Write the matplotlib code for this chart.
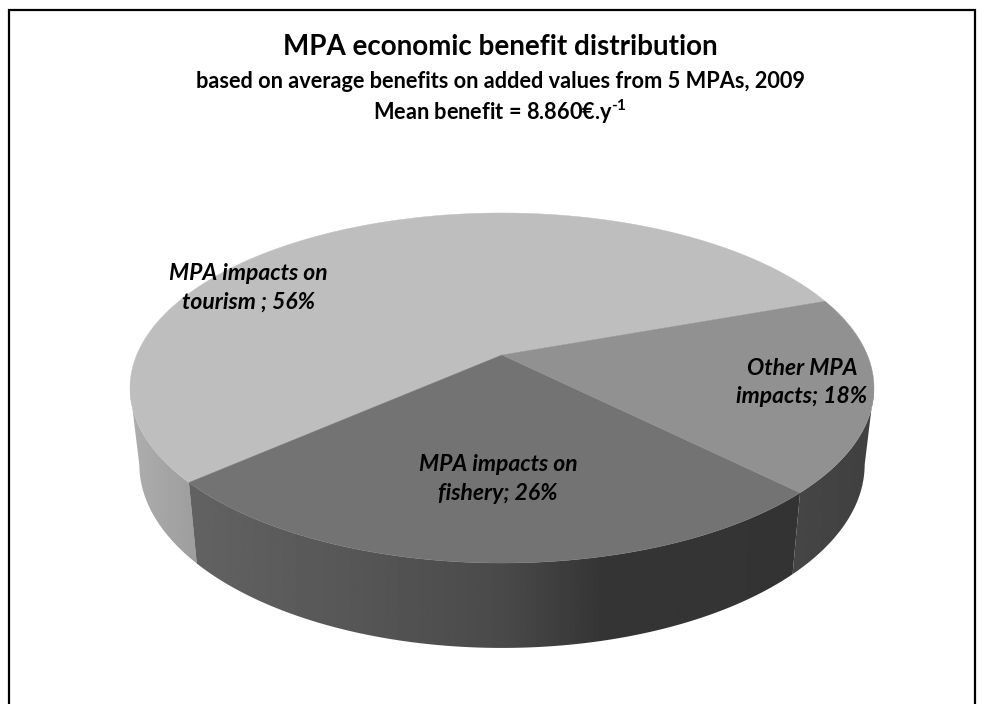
import numpy as np
import matplotlib
matplotlib.use("Agg")
import matplotlib.pyplot as plt
from matplotlib.patches import Polygon

plt.rcParams['font.family'] = ['Lato', 'DejaVu Sans']
plt.rcParams['mathtext.fontset'] = 'custom'
plt.rcParams['mathtext.bf'] = 'Lato:bold'
plt.rcParams['mathtext.rm'] = 'Lato:bold'

labels = ['MPA impacts on\ntourism ; 56%', 'MPA impacts on\nfishery; 26%', 'Other MPA\nimpacts; 18%']
values = [56, 26, 18]
top_greys = ['#bebebe', '#737373', '#919191']
# wall shading, grey level against pixel column
wall_x = [[120, 215], [175, 350, 500, 600, 815], [765, 885]]
wall_g = [[0.69, 0.60], [0.39, 0.34, 0.29, 0.21, 0.20], [0.28, 0.25]]
label_pos = [(248, 287.5), (498, 479), (802, 382.5)]

title = 'MPA economic benefit distribution'
subtitle = 'based on average benefits on added values from 5 MPAs, 2009'
subtitle2 = r'Mean benefit = 8.860€.y$^{\text{-1}}$'

# pie projection, the apex sits above the centre of the rim ellipse
apex_x, apex_y = 502, 355
persp = 0.1886
rad_x, rad_y = 365.3, 168.8
start_angle = 19.8


def project(theta):
    u, v = np.cos(theta), np.sin(theta)
    w = 1 + persp * v
    return rad_x * u / w, rad_y * v / w


def top_rim(theta):
    x, y = project(theta)
    return apex_x + x, apex_y - y


def bottom_rim(theta):
    x, y = project(theta)
    return apex_x + x * 0.975, apex_y - y * 1.049 + 74.7


fig = plt.figure(figsize=(9.83, 7.04), dpi=100)
ax = fig.add_axes([0, 0, 1, 1])

# frame, open at the bottom
ax.plot([9, 9, 975, 975], [704, 10, 10, 704], color='black', lw=1.6, solid_joinstyle='miter')

edges = np.radians(start_angle + np.concatenate([[0], np.cumsum(values)]) * 3.6)

# side walls first, tops go over them
for i in range(len(values)):
    th = np.linspace(edges[i], edges[i + 1], 300)
    # only the part below the widest point of the rim shows
    th = th[np.sin(th) < -persp]
    x1, y1 = top_rim(th)
    x2, y2 = bottom_rim(th)
    pts = np.column_stack([np.r_[x1, x2[::-1]], np.r_[y1, y2[::-1]]])
    wall = Polygon(pts, closed=True, facecolor='none', edgecolor='none', transform=ax.transData)
    ax.add_patch(wall)
    cols = np.arange(wall_x[i][0], wall_x[i][-1] + 1)
    shade = np.interp(cols, wall_x[i], wall_g[i])[np.newaxis, :]
    img = ax.imshow(shade, cmap='gray', vmin=0, vmax=1, aspect='auto',
                    extent=(cols[0], cols[-1], 660, 340), interpolation='bilinear')
    img.set_clip_path(wall)

for i in range(len(values)):
    th = np.linspace(edges[i], edges[i + 1], 300)
    x, y = top_rim(th)
    pts = np.column_stack([np.r_[apex_x, x], np.r_[apex_y, y]])
    ax.add_patch(Polygon(pts, closed=True, facecolor=top_greys[i], edgecolor=top_greys[i], lw=0.3))

for lab, (lx, ly) in zip(labels, label_pos):
    ax.text(lx, ly, lab, ha='center', va='center', fontsize=16.5, fontweight='bold',
            fontstyle='italic', color='black', linespacing=1.45)

ax.text(500, 47, title, ha='center', va='center', fontsize=20, fontweight='bold', color='black')
ax.text(500, 82, subtitle, ha='center', va='center', fontsize=15.7, fontweight='bold', color='black')
ax.text(500, 112, subtitle2, ha='center', va='center', fontsize=15.7, fontweight='bold', color='black')

ax.set_xlim(0, 983)
ax.set_ylim(704, 0)
ax.axis('off')

fig.savefig('out.png', dpi=100)
